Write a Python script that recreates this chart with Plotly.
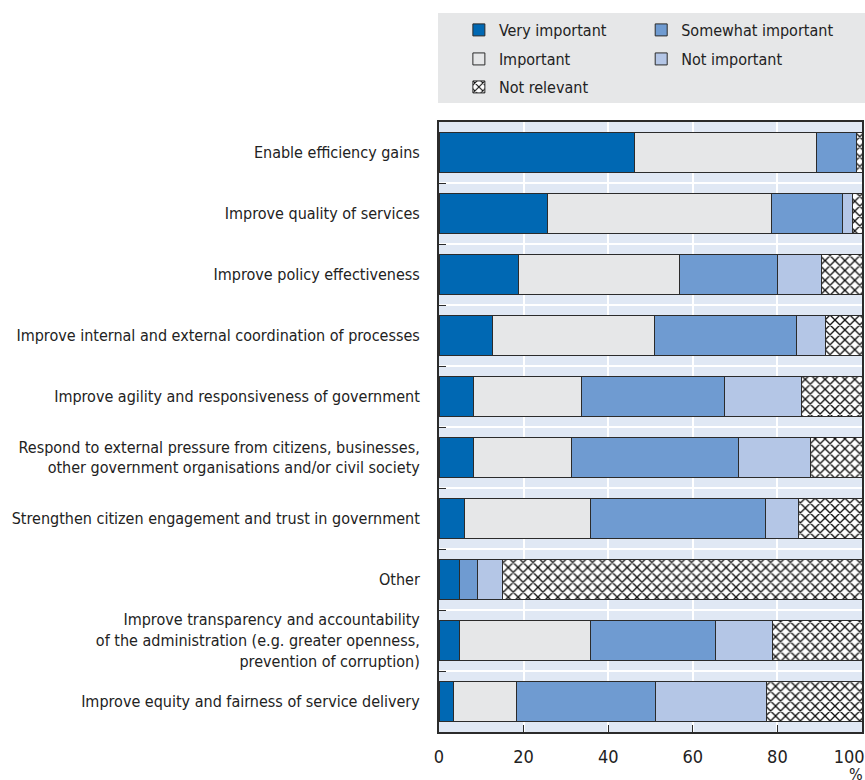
import plotly.graph_objects as go

categories = [
    "Enable efficiency gains",
    "Improve quality of services",
    "Improve policy effectiveness",
    "Improve internal and external coordination of processes",
    "Improve agility and responsiveness of government",
    "Respond to external pressure from citizens, businesses,<br>other government organisations and/or civil society",
    "Strengthen citizen engagement and trust in government",
    "Other",
    "Improve transparency and accountability<br>of the administration (e.g. greater openness,<br>prevention of corruption)",
    "Improve equity and fairness of service delivery",
]

very_important = [46.3, 25.6, 18.8, 12.6, 8.1, 8.1, 6.1, 4.8, 4.8, 3.4]
important = [43.0, 53.0, 38.1, 38.4, 25.5, 23.2, 29.8, 0.0, 31.1, 15.0]
somewhat_important = [9.4, 16.9, 23.1, 33.6, 33.8, 39.4, 41.3, 4.3, 29.4, 32.7]
not_important = [0.0, 2.2, 10.5, 6.8, 18.2, 17.2, 7.8, 5.9, 13.5, 26.4]
not_relevant = [1.3, 2.3, 9.5, 8.6, 14.4, 12.1, 15.0, 85.0, 21.2, 22.5]

x_ticks = [0, 20, 40, 60, 80, 100]
x_ticktext = ["0", "20", "40", "60", "80", "100\u00a0\u00a0\u00a0\u00a0\u00a0"]

FONT = "DejaVu Sans Condensed, Liberation Sans Narrow, sans-serif"
EDGE = "#2b2b2b"
TXT = "#222222"

# (name, values, colour, hatched, legend id)
series = [
    ("Very important", very_important, "#0068b3", False, "legend"),
    ("Important", important, "#e6e7e8", False, "legend3"),
    ("Somewhat important", somewhat_important, "#6f9bd1", False, "legend2"),
    ("Not important", not_important, "#b4c6e6", False, "legend4"),
    ("Not relevant", not_relevant, "white", True, "legend5"),
]

fig = go.Figure()
for name, vals, color, hatched, leg in series:
    marker = dict(color=color, line=dict(color=EDGE, width=1))
    if hatched:
        marker["pattern"] = dict(shape="x", fgcolor="#111111", bgcolor="white",
                                 size=7, solidity=0.35, fillmode="replace")
    fig.add_trace(go.Bar(
        name=name, y=categories, x=vals, orientation="h",
        marker=marker, width=0.67, legend=leg,
    ))

def leg(x, y):
    return dict(
        orientation="h", xref="paper", yref="paper",
        x=x, y=y, xanchor="left", yanchor="top",
        bgcolor="rgba(0,0,0,0)",
        font=dict(family=FONT, size=16, color=TXT),
        itemclick=False, itemdoubleclick=False,
    )

COL1, COL2 = 0.047, 0.478
ROW1, ROW2, ROW3 = 1.1787, 1.1311, 1.0852

fig.update_layout(
    width=865, height=780,
    barmode="stack",
    margin=dict(l=439, r=3, t=122, b=48, autoexpand=False),
    paper_bgcolor="white",
    plot_bgcolor="#e0e8f4",
    font=dict(family=FONT, size=16, color=TXT),
    showlegend=True,
    legend=leg(COL1, ROW1),
    legend2=leg(COL2, ROW1),
    legend3=leg(COL1, ROW2),
    legend4=leg(COL2, ROW2),
    legend5=leg(COL1, ROW3),
    shapes=[dict(type="rect", xref="paper", yref="paper",
                 x0=-0.0024, x1=1.01, y0=1.031, y1=1.1787,
                 fillcolor="#e6e7e8", line=dict(width=0), layer="below")],
    annotations=[dict(text="%", xref="paper", yref="paper", x=0.985, y=-0.05,
                      xanchor="center", yanchor="top", showarrow=False,
                      font=dict(family=FONT, size=16, color=TXT))],
)

fig.update_xaxes(
    range=[0, 100], tickvals=x_ticks, ticktext=x_ticktext,
    showgrid=True, gridcolor="white", gridwidth=1.5,
    ticks="inside", ticklen=7, tickcolor=EDGE, tickwidth=1,
    showline=True, linecolor=EDGE, linewidth=2, mirror=True,
    tickfont=dict(family=FONT, size=18, color=TXT),
    ticklabelstandoff=7, ticklabeloverflow="allow",
    zeroline=False, fixedrange=True,
)
fig.update_yaxes(
    autorange="reversed", tickson="boundaries",
    showgrid=True, gridcolor="white", gridwidth=1.5,
    ticks="inside", ticklen=7, tickcolor=EDGE, tickwidth=1,
    showline=True, linecolor=EDGE, linewidth=2, mirror=True,
    tickfont=dict(family=FONT, size=16, color=TXT),
    ticklabelstandoff=14, fixedrange=True,
)

fig.write_html(
    "out.html",
    config={"displayModeBar": False},
    post_script="document.body.style.margin='0';document.body.style.overflow='hidden';",
)
